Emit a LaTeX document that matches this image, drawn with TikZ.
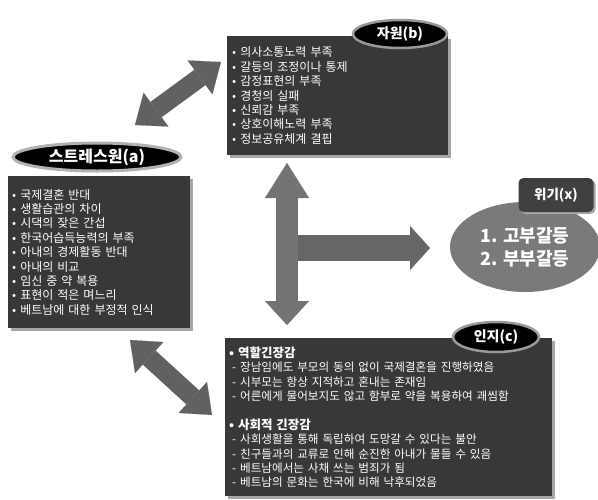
\documentclass[tikz,border=0pt]{standalone}
\usepackage{fontspec}
\newfontfamily\kr{Noto Sans CJK KR}
\usetikzlibrary{shapes.geometric,arrows.meta,shadows}
\tikzset{
  darkbox/.style={rectangle, anchor=north west, fill=black!78, text=white, align=left,
    inner xsep=5pt, inner ysep=0pt,
    drop shadow={shadow xshift=3pt, shadow yshift=-3pt, fill=black!35, opacity=1},
    font=\kr\fontsize{12}{14.4}\selectfont},
  header/.style={ellipse, fill=black, draw=black!40, line width=2.5pt, text=white,
    inner sep=0pt, font=\kr\bfseries\fontsize{14}{16}\selectfont},
  fatline/.style={line width=19pt, draw=black!62},
  fatd/.style={fatline, {Triangle[length=26pt 0, width=42pt 0, line width=0.1pt 0]}-{Triangle[length=26pt 0, width=42pt 0, line width=0.1pt 0]}},
  fatv/.style={line width=22pt, draw=black!55, {Triangle[length=35pt 0, width=44pt 0, line width=0.1pt 0]}-{Triangle[length=24pt 0, width=44pt 0, line width=0.1pt 0]}},
  fats/.style={line width=26pt, draw=black!60, -{Triangle[length=20pt 0, width=44pt 0, line width=0.1pt 0]}},
}
\begin{document}
\begin{tikzpicture}[x=1pt,y=-1pt]
\useasboundingbox (0,0) rectangle (598,499);

% arrow end points
\coordinate (ab1) at (135,125);
\coordinate (ab2) at (221,62);
\coordinate (ac1) at (130,340);
\coordinate (ac2) at (212,415);
\coordinate (v1) at (287,163);
\coordinate (v2) at (287,325);
\coordinate (h1) at (287,248);
\coordinate (h2) at (430,248);

% boxes
\node[darkbox, text width=211pt, minimum height=119pt] (b) at (227,36) {%
• 의사소통노력 부족\\
• 갈등의 조정이나 통제\\
• 감정표현의 부족\\
• 경청의 실패\\
• 신뢰감 부족\\
• 상호이해노력 부족\\
• 정보공유체계 결핍};
\node[header, minimum width=94pt, minimum height=28pt] (hb) at (400,34) {자원(b)};

\node[darkbox, text width=174pt, minimum height=152pt, inner xsep=4pt] (a) at (8,176) {%
• 국제결혼 반대\\
• 생활습관의 차이\\
• 시댁의 잦은 간섭\\
• 한국어습득능력의 부족\\
• 아내의 경제활동 반대\\
• 아내의 비교\\
• 임신 중 약 복용\\
• 표현이 적은 며느리\\
• 베트남에 대한 부정적 인식};
\node[header, minimum width=168pt, minimum height=28pt, draw=black!30, line width=3pt,
  font=\kr\bfseries\fontsize{16}{18}\selectfont] (ha) at (97,157) {스트레스원(a)};

\node[darkbox, text width=319pt, minimum height=158pt, inner xsep=4pt,
  font=\kr\fontsize{11.6}{14.4}\selectfont] (c) at (225,338) {%
{\bfseries\fontsize{12.5}{14.4}\selectfont • 역할긴장감}\\
\hspace*{3pt}- 장남임에도 부모의 동의 없이 국제결혼을 진행하였음\\
\hspace*{3pt}- 시부모는 항상 지적하고 혼내는 존재임\\
\hspace*{3pt}- 어른에게 물어보지도 않고 함부로 약을 복용하여 괘씸함\\[14.4pt]
{\bfseries\fontsize{12.5}{14.4}\selectfont • 사회적 긴장감}\\
\hspace*{3pt}- 사회생활을 통해 독립하여 도망갈 수 있다는 불안\\
\hspace*{3pt}- 친구들과의 교류로 인해 순진한 아내가 물들 수 있음\\
\hspace*{3pt}- 베트남에서는 사채 쓰는 범죄가 됨\\
\hspace*{3pt}- 베트남의 문화는 한국에 비해 낙후되었음};
\node[header, minimum width=86pt, minimum height=30pt] (hc) at (496,337) {인지(c)};

% crisis
\node[ellipse, fill=black!52, minimum width=150pt, minimum height=90pt, text=white, align=center,
  font=\kr\bfseries\fontsize{18}{23}\selectfont] (x) at (525,247) {1. 고부갈등\\2. 부부갈등};
\node[rectangle, rounded corners=5pt, fill=black!75, text=white, minimum width=75pt, minimum height=34pt,
  drop shadow={shadow xshift=2pt, shadow yshift=-2pt, fill=black!35, opacity=1},
  font=\kr\bfseries\fontsize{13.5}{15}\selectfont] (hx) at (556,195) {위기(x)};

% connectors
\draw[fatd] (ab1) -- (ab2);
\draw[fatd] (ac1) -- (ac2);
\draw[fats] (h1) -- (h2);
\draw[fatv] (v1) -- (v2);
\end{tikzpicture}
\end{document}
